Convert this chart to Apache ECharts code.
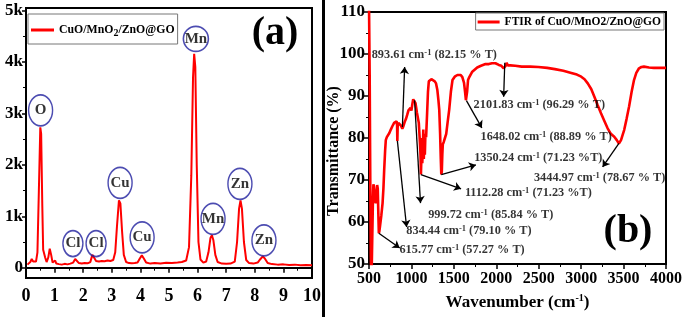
<!DOCTYPE html>
<html>
<head>
<meta charset="utf-8">
<script src="https://cdn.jsdelivr.net/npm/echarts@6/dist/echarts.min.js"></script>
<style>
  html, body { margin: 0; padding: 0; background: #fff; }
  #chart { width: 685px; height: 317px; }
</style>
</head>
<body>
<div id="chart"></div>
<script>
// EDS spectrum (a)
const edsKeV = [0.05, 0.1, 0.15, 0.2, 0.25, 0.3, 0.35, 0.4, 0.45, 0.5, 0.53, 0.57, 0.6, 0.63, 0.67, 0.72, 0.78, 0.83, 0.88, 0.93, 0.98, 1.02, 1.06, 1.15, 1.25, 1.35, 1.45, 1.55, 1.65, 1.72, 1.78, 1.85, 1.95, 2.05, 2.15, 2.25, 2.32, 2.38, 2.45, 2.55, 2.65, 2.75, 2.85, 2.95, 3.05, 3.12, 3.18, 3.25, 3.3, 3.36, 3.42, 3.5, 3.6, 3.7, 3.8, 3.9, 3.98, 4.05, 4.12, 4.2, 4.35, 4.5, 4.7, 4.9, 5.1, 5.3, 5.45, 5.6, 5.7, 5.78, 5.84, 5.88, 5.92, 5.97, 6.03, 6.1, 6.2, 6.3, 6.38, 6.45, 6.5, 6.55, 6.62, 6.7, 6.85, 7.0, 7.15, 7.3, 7.38, 7.45, 7.5, 7.55, 7.62, 7.7, 7.8, 7.95, 8.1, 8.2, 8.28, 8.35, 8.45, 8.6, 8.8, 9.0, 9.2, 9.4, 9.6, 9.8, 10];
const edsCounts = [60, 80, 110, 170, 120, 90, 120, 300, 1500, 2730, 2600, 1200, 350, 320, 200, 110, 200, 370, 250, 100, 90, 140, 80, 70, 60, 75, 65, 80, 100, 170, 150, 90, 80, 90, 85, 110, 250, 220, 130, 120, 130, 125, 140, 130, 150, 300, 800, 1310, 1250, 700, 250, 110, 90, 85, 90, 100, 180, 240, 180, 100, 80, 90, 80, 95, 90, 100, 110, 140, 400, 1800, 3700, 4160, 3900, 2000, 500, 160, 100, 120, 300, 580, 630, 540, 250, 110, 80, 75, 80, 120, 500, 1150, 1310, 1150, 500, 150, 90, 80, 100, 170, 220, 180, 90, 70, 60, 65, 55, 60, 50, 55, 50];
const edsMajorTicks = [0, 1000, 2000, 3000, 4000, 5000];
const edsMinorTicks = [500, 1500, 2500, 3500, 4500];

// element rings (a): label, keV, counts
const ringLabels = ['O', 'Mn', 'Cu', 'Cl', 'Cl', 'Cu', 'Mn', 'Zn', 'Zn'];
const ringKeV = [0.51, 5.94, 3.29, 1.64, 2.45, 4.06, 6.54, 7.48, 8.32];
const ringCounts = [3060, 4450, 1650, 470, 470, 590, 950, 1630, 530];

// FTIR spectrum (b)
const ftirWn = [500, 508, 515, 521, 527, 533, 540, 547, 552, 558, 565, 572, 580, 588, 596, 603, 610, 616, 622, 630, 645, 660, 670, 679, 690, 698, 710, 725, 740, 757, 775, 796, 812, 825, 831, 834, 838, 846, 860, 875, 893, 905, 920, 935, 950, 965, 975, 990, 1000, 1010, 1021, 1035, 1048, 1065, 1087, 1100, 1107, 1112, 1117, 1123, 1128, 1135, 1140, 1146, 1152, 1158, 1165, 1173, 1185, 1195, 1205, 1215, 1235, 1255, 1275, 1290, 1305, 1318, 1328, 1338, 1346, 1352, 1358, 1364, 1370, 1380, 1395, 1410, 1425, 1445, 1465, 1484, 1510, 1542, 1581, 1600, 1620, 1632, 1642, 1648, 1656, 1667, 1682, 1717, 1775, 1820, 1873, 1912, 1950, 1990, 2030, 2060, 2087, 2101, 2112, 2122, 2135, 2165, 2223, 2300, 2400, 2495, 2600, 2690, 2790, 2884, 2950, 3001, 3040, 3078, 3120, 3156, 3195, 3234, 3275, 3312, 3350, 3390, 3420, 3445, 3470, 3490, 3507, 3535, 3565, 3595, 3623, 3650, 3682, 3710, 3740, 3800, 3857, 3930, 4000];
const ftirT = [112, 95, 70, 52, 48, 50, 58, 66, 69, 68.5, 67, 65, 64.5, 66, 68.8, 68, 62, 57.3, 57.8, 59, 61.5, 64.5, 68, 72.4, 77, 79.5, 80.2, 80.5, 81.2, 82, 82.8, 83.6, 84, 84, 83, 79.3, 82.8, 83.6, 83.4, 83, 82.2, 82.8, 83.8, 84.5, 85.5, 86.6, 86.8, 87.2, 86.5, 88, 89.2, 89, 88.3, 86, 83.6, 79, 76, 71.3, 75, 80, 74, 78, 82, 75, 80, 76, 81, 80.2, 86, 91, 93.5, 93.8, 94, 93.9, 93.5, 93, 91.5, 89, 86.7, 81, 75, 71.3, 72, 76, 78.5, 79, 80, 81, 83.5, 86.7, 91, 93.8, 94.6, 95, 95, 94.5, 93.1, 91, 89, 88.9, 91, 93.8, 94.5, 95.8, 96.8, 97.2, 97.6, 97.6, 97.8, 97.8, 97.4, 97.2, 96.6, 96.3, 97.2, 97.9, 97.3, 97.3, 97.2, 97, 97, 96.9, 96.7, 96.4, 96, 95.5, 95.1, 94.6, 94, 93, 91.6, 89.8, 87.8, 85.9, 84, 82.3, 81, 80.3, 79.5, 78.7, 79.5, 80.8, 81.9, 84.5, 87.5, 91, 93.8, 95.5, 96.6, 96.9, 97, 96.8, 96.7, 96.7, 96.7];

// peak annotations (b): wavenumber, %T, where the label sits, where the arrow ends
const peakWn = ['893.61', '2101.83', '1648.02', '1350.24', '1112.28', '999.72', '834.44', '615.77', '3444.97'];
const peakT = ['82.15 % T', '96.29 % T', '88.89 % T', '71.23 %T', '71.23 %T', '85.84 % T', '79.10 % T', '57.27 % T', '78.67 % T'];
const labelAt = [[1270, 99.8], [2507, 87.9], [2588, 80.2], [2495, 75.2], [2378, 66.9], [1935, 61.7], [1678, 57.9], [1597, 53.3], [3218, 70.5]];
const arrowFrom = [[893.61, 82.6], [2100, 97.9], [1648, 88.9], [1352, 71.3], [1112, 71.3], [1037, 89], [834.44, 79.3], [616, 57.3], [3445, 78.7]];
const arrowTo = [[920, 96.9], [2087, 89.8], [1830, 82.4], [1760, 73.6], [1585, 67.9], [1107, 64.5], [943, 58.8], [862, 53.8], [3253, 73.1]];

const serif = 'Liberation Serif';
const boldLabel = { fontFamily: serif, fontWeight: 'bold', color: '#000' };
const axisLine = { show: true, lineStyle: { color: '#000', width: 2 } };
const majorTick = (len) => ({ show: true, length: len, lineStyle: { color: '#000', width: 1.5 } });
const minorTick = { show: true, splitNumber: 2, length: 3, lineStyle: { color: '#000', width: 1 } };

const chart = echarts.init(document.getElementById('chart'));

const option = {
    animation: false,
    backgroundColor: '#fff',
    grid: [
        { left: 26, top: 8, width: 286, height: 270, show: true, borderColor: '#000', borderWidth: 2, backgroundColor: 'transparent' },
        { left: 369, top: 12, width: 301, height: 252, show: true, borderColor: '#000', borderWidth: 2, backgroundColor: 'transparent' }
    ],
    legend: [
        {
            data: ['CuO/MnO2/ZnO@GO'],
            left: 28, top: 14,
            padding: [7, 3, 6, 3],
            borderColor: '#777', borderWidth: 1,
            icon: 'rect', itemWidth: 23, itemHeight: 3,
            formatter: () => '{a|CuO/MnO}{s|2}{a|/ZnO@GO}',
            textStyle: {
                rich: {
                    a: { fontFamily: serif, fontWeight: 'bold', fontSize: 11.8, color: '#000', lineHeight: 16 },
                    s: { fontFamily: serif, fontWeight: 'bold', fontSize: 10, color: '#000', verticalAlign: 'bottom', lineHeight: 16, padding: [7, 0, 0, 0] }
                }
            }
        },
        {
            data: ['FTIR of CuO/MnO2/ZnO@GO'],
            right: 21, top: 13,
            padding: [3, 3, 2, 2],
            borderColor: '#777', borderWidth: 1,
            icon: 'rect', itemWidth: 22, itemHeight: 3,
            textStyle: { fontFamily: serif, fontWeight: 'bold', fontSize: 11.5, color: '#000' }
        }
    ],
    xAxis: [
        {
            gridIndex: 0, type: 'value', min: 0, max: 10, interval: 1,
            axisLine: axisLine,
            axisTick: majorTick(5),
            minorTick: minorTick,
            splitLine: { show: false },
            axisLabel: Object.assign({ fontSize: 18, margin: 9 }, boldLabel)
        },
        {
            gridIndex: 1, type: 'value', min: 500, max: 4000, interval: 500,
            name: '{t|Wavenumber (cm}{s|-1}{t|)}',
            nameLocation: 'middle', nameGap: 29, nameMoveOverlap: false,
            nameTextStyle: {
                rich: {
                    t: { fontFamily: serif, fontWeight: 'bold', fontSize: 17, color: '#000', lineHeight: 20 },
                    s: { fontFamily: serif, fontWeight: 'bold', fontSize: 10, color: '#000', verticalAlign: 'top', lineHeight: 20 }
                }
            },
            axisLine: axisLine,
            axisTick: majorTick(5),
            minorTick: minorTick,
            splitLine: { show: false },
            axisLabel: Object.assign({ fontSize: 16, margin: 7, formatter: v => String(v) }, boldLabel)
        }
    ],
    yAxis: [
        {
            gridIndex: 0, type: 'value', min: -200, max: 5050, position: 'left',
            axisLine: axisLine,
            axisTick: Object.assign(majorTick(4), { customValues: edsMajorTicks }),
            splitLine: { show: false },
            axisLabel: Object.assign({
                fontSize: 17, margin: 3,
                customValues: edsMajorTicks,
                formatter: v => v === 0 ? '0' : (v / 1000) + 'k'
            }, boldLabel)
        },
        {
            gridIndex: 1, type: 'value', min: 50, max: 110, interval: 10,
            name: 'Transmittance (%)',
            nameLocation: 'middle', nameGap: 27, nameRotate: 90, nameMoveOverlap: false,
            nameTextStyle: { fontFamily: serif, fontWeight: 'bold', fontSize: 16, color: '#000', padding: [0, 26, 0, 0] },
            axisLine: axisLine,
            axisTick: majorTick(5),
            minorTick: minorTick,
            splitLine: { show: false },
            axisLabel: Object.assign({ fontSize: 17, margin: 4 }, boldLabel)
        },
        {
            // minor ticks for the EDS count axis
            gridIndex: 0, type: 'value', min: -200, max: 5050, position: 'left', offset: 0,
            axisLine: { show: false, onZero: false },
            axisTick: { show: true, length: 3, customValues: edsMinorTicks, lineStyle: { color: '#000', width: 1 } },
            axisLabel: { show: false },
            splitLine: { show: false }
        }
    ],
    series: [
        {
            name: 'CuO/MnO2/ZnO@GO',
            type: 'line', xAxisIndex: 0, yAxisIndex: 0,
            data: edsKeV.map((k, i) => [k, edsCounts[i]]),
            symbol: 'none',
            itemStyle: { color: '#ff0000' },
            lineStyle: { color: '#ff0000', width: 2 }
        },
        {
            name: 'rings',
            type: 'scatter', xAxisIndex: 0, yAxisIndex: 0,
            data: ringKeV.map((k, i) => ({ value: [k, ringCounts[i]], name: ringLabels[i] })),
            symbol: 'circle',
            symbolSize: (v, p) => p.name === 'Cl' ? [20, 26] : (p.dataIndex === 1 ? [25, 25] : [24, 31]),
            itemStyle: { color: 'transparent', borderColor: '#1f1f9e', borderWidth: 1.6 },
            label: {
                show: true, position: 'inside',
                formatter: p => p.name,
                fontFamily: serif, fontWeight: 'bold', fontSize: 15, color: '#000'
            },
            silent: true, z: 5
        },
        {
            name: 'FTIR of CuO/MnO2/ZnO@GO',
            type: 'line', xAxisIndex: 1, yAxisIndex: 1,
            data: ftirWn.map((w, i) => [w, ftirT[i]]),
            symbol: 'none', clip: true,
            itemStyle: { color: '#ff0000' },
            lineStyle: { color: '#ff0000', width: 2.6 }
        },
        {
            name: 'arrows',
            type: 'lines', coordinateSystem: 'cartesian2d', xAxisIndex: 1, yAxisIndex: 1,
            data: arrowFrom.map((f, i) => ({ coords: [f, arrowTo[i]] })),
            symbol: ['none', 'arrow'], symbolSize: 7,
            lineStyle: { color: '#000', width: 1.3, opacity: 1 },
            silent: true, z: 6
        },
        {
            name: 'peak labels',
            type: 'scatter', xAxisIndex: 1, yAxisIndex: 1,
            data: labelAt.map((p, i) => ({ value: p, name: String(i) })),
            symbolSize: 1,
            itemStyle: { color: 'transparent' },
            label: {
                show: true, position: 'inside',
                formatter: p => '{t|' + peakWn[p.dataIndex] + ' cm}{s|-1}{t| (' + peakT[p.dataIndex] + ')}',
                rich: {
                    t: { fontFamily: serif, fontWeight: 'bold', fontSize: 12.3, color: '#000', lineHeight: 14 },
                    s: { fontFamily: serif, fontWeight: 'bold', fontSize: 8.5, color: '#000', verticalAlign: 'top', lineHeight: 14 }
                }
            },
            silent: true, z: 7
        }
    ],
    graphic: [
        { type: 'rect', shape: { x: 322, y: 0, width: 3, height: 317 }, style: { fill: '#000' } },
        { type: 'text', x: 275, y: 34, style: { text: '(a)', font: 'bold 40px "Liberation Serif"', fill: '#000', align: 'center', verticalAlign: 'middle' } },
        { type: 'text', x: 628, y: 232, style: { text: '(b)', font: 'bold 40px "Liberation Serif"', fill: '#000', align: 'center', verticalAlign: 'middle' } }
    ]
};

chart.setOption(option);
</script>
</body>
</html>
